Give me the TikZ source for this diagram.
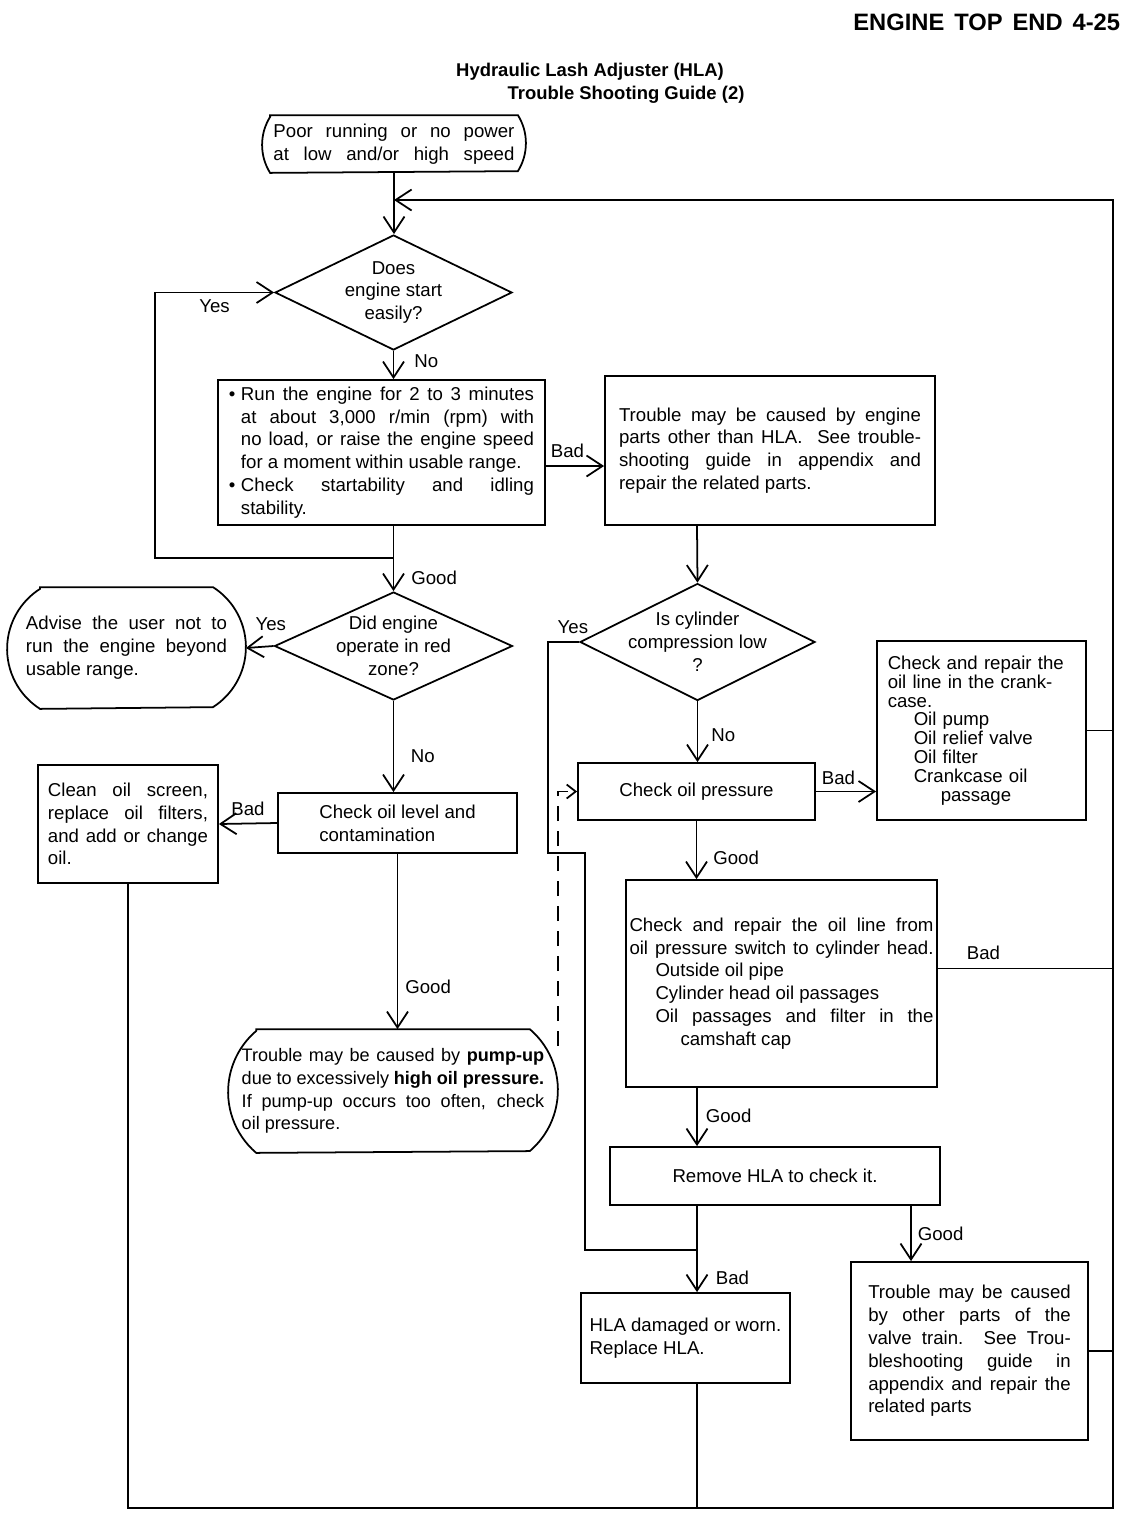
\documentclass[tikz,border=0pt]{standalone}
\usepackage{fontspec}
\setmainfont{Liberation Sans}
\usetikzlibrary{arrows.meta, positioning, shapes.geometric}

\newcommand\flowfont{\fontsize{10.6}{13}\selectfont\tolerance=9999\hyphenpenalty=10000\exhyphenpenalty=10000\relax}
\newcommand\blt{\makebox[0.24cm][l]{\textbullet}}

\begin{document}
\begin{tikzpicture}[x=0.2mm, y=-0.2mm, >={Straight Barb[length=3.2mm, width=4.2mm]}, line width=1pt,
	box/.style={draw, rectangle, font=\flowfont, inner ysep=0pt},
	term/.style={rectangle, font=\flowfont, inner ysep=0pt, align=justify},
	ask/.style={draw, diamond, aspect=2, font=\flowfont, align=center, inner xsep=-0.3cm, inner ysep=-0.1cm},
	lbl/.style={font=\flowfont, inner sep=0pt}]
	\useasboundingbox (0,0) rectangle (1132,1524);

	% terminal outline: node, bulge, half arc angle, arc radius
	\def\termedge#1#2#3#4{\draw ([xshift=#2]#1.north west) -- ([xshift=-#2]#1.north east)
		arc[start angle=#3, end angle=-#3, radius=#4] -- ([xshift=#2]#1.south west)
		arc[start angle=180+#3, end angle=180-#3, radius=#4] -- cycle;}
	\def\hi{\hspace*{0.24cm}}	% hanging indent after a bullet

	% Headings
	\node[anchor=east, inner sep=0pt, font=\bfseries\fontsize{13.5}{16}\selectfont] (head) at (1121,22) {\spaceskip=0.42em ENGINE TOP END 4-25};
	\node[font=\bfseries\fontsize{10.5}{13}\selectfont] (title1) at (590,72) {Hydraulic Lash Adjuster (HLA)};
	\node[font=\bfseries\fontsize{10.5}{13}\selectfont] (title2) at (626,95) {Trouble Shooting Guide (2)};

	% Rails and corners
	\coordinate (rail) at (1113,1508);	% lower right corner
	\coordinate (railtop) at (1113,200);	% upper right corner
	\coordinate (lx) at (155,0);		% left loop
	\coordinate (jl) at (393.5,558);	% left loop joins here
	\coordinate (cx) at (697,0);		% right column
	\coordinate (gx) at (911,0);		% good branch
	\coordinate (ya) at (548,853);		% yes loop, step
	\coordinate (yb) at (585,1250);		% yes loop, joins here

	% Left column
	\node[term, text width=4.82cm, minimum width=5.24cm, minimum height=1.12cm] (start) at (394,144) {\parfillskip=0pt Poor running or no power\linebreak at low and/or high speed\par};
	\termedge{start}{0.16cm}{32}{1.057cm}
	\node[ask, minimum width=4.74cm, minimum height=2.3cm] (easy) at (393.5,292.5) {Does\\engine start\\easily?};
	\node[box, text width=6.1cm, minimum width=6.54cm, minimum height=2.9cm, align=justify] (run) at (381.5,452.5) {\blt Run the engine for 2 to 3 minutes\linebreak \hi at about 3,000 r/min (rpm) with\linebreak \hi no load, or raise the engine speed\linebreak \hi for a moment within usable range.\\
		\blt Check startability and idling\linebreak \hi stability.};
	\node[ask, minimum width=4.76cm, minimum height=2.16cm] (redzone) at (393.5,646) {Did engine\\operate in red\\zone?};
	\node[term, text width=4.02cm, minimum width=4.74cm, minimum height=2.4cm] (advise) at (126.5,648) {Advise the user not to\linebreak run the engine beyond\linebreak usable range.};
	\termedge{advise}{0.658cm}{57.5}{1.423cm}
	\node[box, minimum width=4.78cm, minimum height=1.2cm, align=left] (level) at (397.5,823) {Check oil level and\\contamination};
	\node[box, text width=3.2cm, minimum width=3.6cm, minimum height=2.36cm, align=justify] (clean) at (128,824) {Clean oil screen,\linebreak replace oil filters,\linebreak and add or change\linebreak oil.};
	\node[term, text width=6.05cm, minimum width=6.56cm, minimum height=2.44cm, font=\flowfont\fontsize{10.3}{13}\selectfont] (pumpup) at (393,1091) {Trouble may be caused by \textbf{pump-up}\linebreak due to excessively \textbf{high oil pressure.}\linebreak If pump-up occurs too often, check\linebreak oil pressure.};
	\termedge{pumpup}{0.562cm}{49.5}{1.604cm}

	% Right column
	\node[box, text width=6.04cm, minimum width=6.6cm, minimum height=2.98cm, align=justify] (parts) at (770,450.5) {Trouble may be caused by engine\linebreak parts other than HLA.\ \ See trouble-\linebreak shooting guide in appendix and\linebreak repair the related parts.};
	\node[ask, minimum width=4.7cm, minimum height=2.34cm] (compr) at (697.5,642) {Is cylinder\\compression low\\?};
	\node[box, minimum width=4.74cm, minimum height=1.14cm] (press) at (696.5,791.5) {Check oil pressure};
	\node[box, text width=3.75cm, minimum width=4.18cm, minimum height=3.58cm, inner xsep=0.15cm, align=left, font=\fontsize{10.6}{10.7}\selectfont] (crank) at (981.5,730.5) {Check and repair the\\ oil line in the crank-\\ case.\\ \hspace*{0.52cm}Oil pump\\ \hspace*{0.52cm}Oil relief valve\\ \hspace*{0.52cm}Oil filter\\ \hspace*{0.52cm}Crankcase oil\\ \hspace*{1.06cm}passage};
	\node[box, text width=6.08cm, minimum width=6.22cm, minimum height=4.14cm, inner xsep=0.07cm, align=justify] (oilline) at (781.5,983.5) {Check and repair the oil line from\linebreak oil pressure switch to cylinder head.\linebreak \hspace*{0.52cm}Outside oil pipe\\ \hspace*{0.52cm}Cylinder head oil passages\\ \hspace*{0.52cm}Oil passages and filter in the\linebreak \hspace*{1.02cm}camshaft cap};
	\node[box, minimum width=6.6cm, minimum height=1.16cm] (remove) at (775,1176) {Remove HLA to check it.};
	\node[box, minimum width=4.18cm, minimum height=1.8cm, align=left] (hla) at (685.5,1338) {HLA damaged or worn.\\Replace HLA.};
	\node[box, text width=4.05cm, minimum width=4.74cm, minimum height=3.56cm, align=justify] (valve) at (969.5,1351) {Trouble may be caused\linebreak by other parts of the\linebreak valve train.\ \ See Trou-\linebreak bleshooting guide in\linebreak appendix and repair the\linebreak related parts};

	% Left column connectors
	\draw[->] (start.south) -- (start.south |- easy.north);
	\draw[->] (easy.south) -- node[lbl, right=0.4cm, pos=0.35] (no1) {No} (easy.south |- run.north);
	\draw[->] (jl) -- (jl -| lx) -- (easy.west -| lx) -- node[lbl, below=0.12cm] (yes1) {Yes} (easy.west);
	\draw[->] (run.south -| redzone.north) -- node[lbl, right=0.34cm, pos=0.79] (good1) {Good} (redzone.north);
	\draw[->] ([yshift=-0.27cm]run.east) -- node[lbl, above=0.14cm, xshift=-0.15cm] (bad1) {Bad} ([yshift=-0.27cm]run.east -| parts.west);
	\draw[->] (redzone.west) -- node[lbl, above=0.3cm, pos=0.1] (yes2) {Yes} (advise.east);
	\draw[->] (redzone.south) -- node[lbl, right=0.33cm, pos=0.61] (no2) {No} (redzone.south |- level.north);
	\draw[->] (level.west) -- node[lbl, above=0.14cm] (bad2) {Bad} (clean.east);
	\draw[->] (level.south) -- node[lbl, right=0.14cm, pos=0.76] (good2) {Good} (level.south |- pumpup.north);
	\draw[-{Straight Barb[length=1.8mm, width=2.8mm]}, dash pattern=on 3mm off 2mm] ([yshift=0.9cm]pumpup.east) |- (press.west);

	% Right column connectors
	\draw[->] (parts.south -| cx) -- (compr.north);
	\draw (compr.west) -- node[lbl, above=0.15cm, pos=0.2] (yes3) {Yes} (compr.west -| ya) -- (ya) -- (ya -| yb) -- (yb) -- (yb -| cx);
	\draw[->] (compr.south) -- node[lbl, right=0.26cm, pos=0.55] (no3) {No} (compr.south |- press.north);
	\draw[->] (press.east) -- node[lbl, above=0.12cm, xshift=-0.15cm] (bad3) {Bad} (press.east -| crank.west);
	\draw[->] (press.south) -- node[lbl, right=0.32cm, pos=0.63] (good3) {Good} (press.south |- oilline.north);
	\draw[->] (oilline.south -| cx) -- node[lbl, right=0.16cm, pos=0.48] (good4) {Good} (remove.north -| cx);
	\draw[->] (remove.south -| cx) -- node[lbl, right=0.36cm, pos=0.83] (bad4) {Bad} (hla.north -| cx);
	\draw[->] (remove.south -| gx) -- node[lbl, right=0.12cm, pos=0.5] (good5) {Good} (valve.north -| gx);

	% Return rail
	\draw ([yshift=0.3cm]oilline.east) -- node[lbl, above=0.15cm, pos=0.26] (bad5) {Bad} ([yshift=0.3cm]oilline.east -| rail);
	\draw (crank.east) -- (crank.east -| rail);
	\draw (valve.east) -- (valve.east -| rail);
	\draw (hla.south -| cx) -- (rail -| cx);
	\draw[->] (clean.south) |- (rail) -- (railtop) -- (start.south |- railtop);
\end{tikzpicture}
\end{document}
